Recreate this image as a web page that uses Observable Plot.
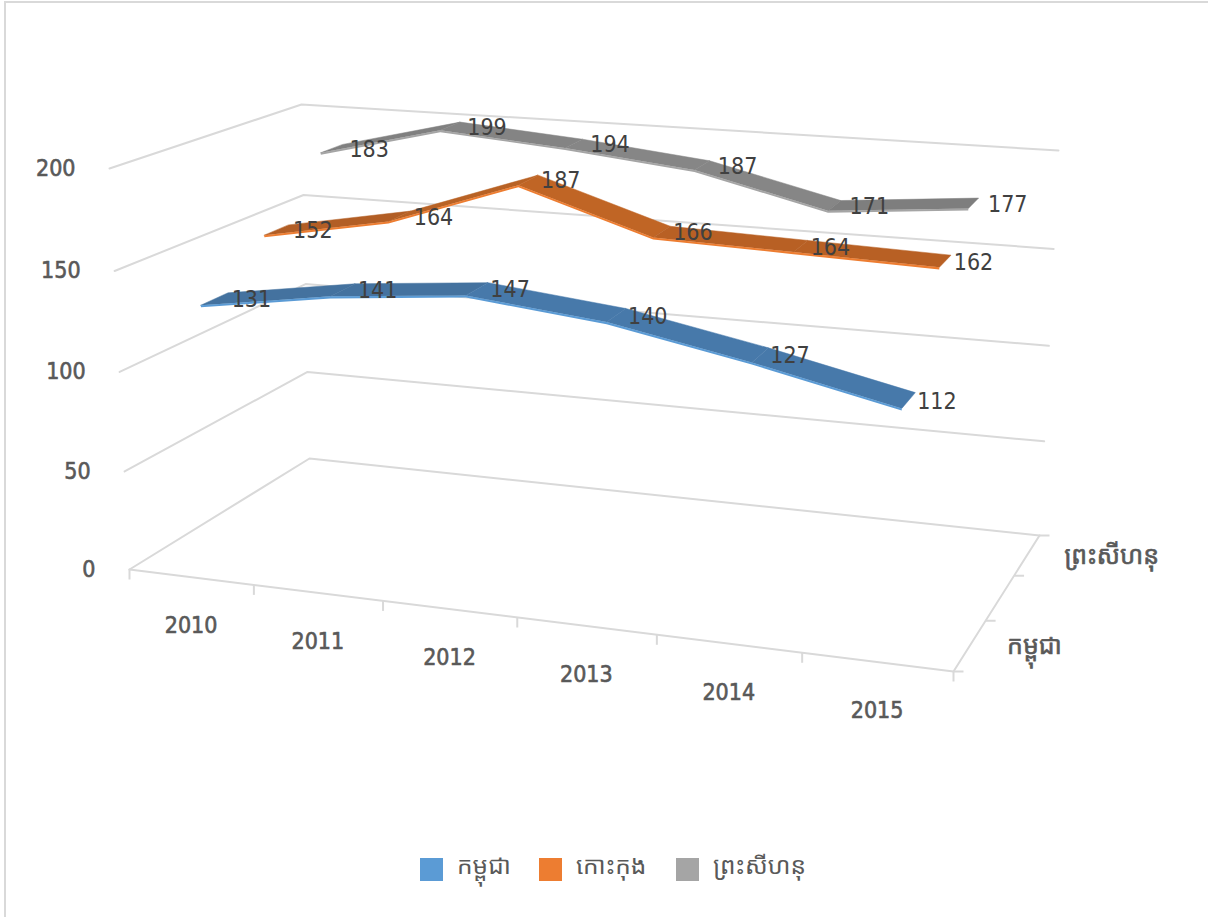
<!DOCTYPE html>
<html><head><meta charset="utf-8">
<script src="https://cdn.jsdelivr.net/npm/d3@7"></script>
<script src="https://cdn.jsdelivr.net/npm/@observablehq/plot@0.6"></script>
<style>
html,body{margin:0;padding:0;background:#fff;overflow:hidden}
#frame{position:absolute;left:4px;top:1px;width:1204px;height:916px;border-left:2px solid #d9d9d9;border-top:2px solid #d9d9d9;box-sizing:border-box;pointer-events:none}
#chart svg{display:block}
#legend{position:relative;height:82px;width:1208px;font-family:"Noto Sans Khmer","Noto Sans","DejaVu Sans",sans-serif;font-size:24.5px;color:#595959}
#legend i{position:absolute;top:23px;width:23px;height:23px}
#legend span{position:absolute;top:12px;line-height:36px}
</style></head><body>
<div id="chart"></div>
<div id="legend"></div>
<div id="frame"></div>
<script>
const years = [2010, 2011, 2012, 2013, 2014, 2015];
const seriesNames = ["កម្ពុជា", "កោះកុង", "ព្រះសីហនុ"];
const kampuchea = [131, 141, 147, 140, 127, 112];
const kohKong = [152, 164, 187, 166, 164, 162];
const sihanouk = [183, 199, 194, 187, 171, 177];
const seriesValues = [kampuchea, kohKong, sihanouk];
const valueTicks = [0, 50, 100, 150, 200];
const depthLabels = ["កម្ពុជា", "ព្រះសីហនុ"];
const segmentShades = [
  ["#44729f", "#44729f", "#4779aa", "#4779aa", "#4779aa"],
  ["#b25e25", "#b86225", "#c06525", "#b86024", "#b86024"],
  ["#808080", "#848484", "#868686", "#868686", "#7e7e7e"]
];
const edgeColors = ["#5b9bd5", "#ed7d31", "#a5a5a5"];

// perspective box of the chart
const box = {
  f0l: [129, 569], f0r: [953, 671], f1l: [109, 168], f1r: [985, 231],
  b0l: [309, 458], b0r: [1039, 535], b1l: [301, 104], b1r: [1058, 150]
};
const persp = (t, k) => t / (t + (1 - t) * k);
const mix = (a, b, t) => [a[0] + (b[0] - a[0]) * t, a[1] + (b[1] - a[1]) * t];
function project(u, value, w) {
  const tu = persp(u, 1.125), tv = persp(value / 200, 1.03), tw = persp(w, 0.84);
  const f = mix(mix(box.f0l, box.f0r, tu), mix(box.f1l, box.f1r, tu), tv);
  const b = mix(mix(box.b0l, box.b0r, tu), mix(box.b1l, box.b1r, tu), tv);
  return mix(f, b, tw);
}
const uOf = i => (i + 0.5) / years.length;
const wOf = s => (s + 0.5) / seriesNames.length;
const halfW = 0.068, edgeDrop = 1.0;
const labelDrift = [8, 7, 3], labelBase = [1, 2, 0];

const ribbon = [];
const labels = [];
seriesValues.forEach((vals, s) => {
  vals.forEach((v, i) => {
    const u = uOf(i), c = wOf(s);
    const fr = project(u, v, c - halfW), bk = project(u, v, c + halfW), dn = project(u, v - edgeDrop, c - halfW);
    ribbon.push({s, i, fx: fr[0], fy: fr[1], bx: bk[0], by: bk[1], dx: dn[0], dy: dn[1]});
    const m = project(u, v, c);
    labels.push({x: m[0] - labelBase[s] * (i ? 1 : 0.5) - labelDrift[s] * i / (years.length - 1), y: m[1], text: String(v)});
  });
});
const gridLines = [];
valueTicks.forEach(v => {
  [[0, 0], [0, 1], [1, 1]].forEach(([u, w]) => {
    const p = project(u, v, w);
    gridLines.push({v, x: p[0], y: p[1]});
  });
});
const floorEdge = [[0, 0], [1, 0], [1, 1]].map(([u, w]) => { const p = project(u, 0, w); return {x: p[0], y: p[1]}; });
const xTicks = d3.range(0, years.length + 1).map(i => { const p = project(i / years.length, 0, 0); return {x: p[0], y: p[1]}; });
const zTicks = d3.range(0, seriesNames.length + 1).map(i => { const p = project(1, 0, i / seriesNames.length); return {x: p[0], y: p[1]}; });
const xLabels = years.map((yr, i) => { const p = project(uOf(i), 0, 0); return {x: p[0], y: p[1], text: String(yr)}; });
const yLabels = valueTicks.map(v => { const p = project(0, v, 0); return {x: p[0], y: p[1], text: String(v)}; });
const zLabels = depthLabels.map((t, i) => { const p = project(1, 0, wOf(i === 0 ? 0 : 2)); return {x: p[0], y: p[1], text: t}; });

const W = 1208, H = 835;
const grey = "#d9d9d9";
const digitFont = '"DejaVu Sans Condensed","DejaVu Sans",sans-serif';
const axisText = {fill: "#595959", stroke: "#595959", strokeWidth: 0.6, fontSize: 23, fontFamily: digitFont};
const marks = [
  Plot.line(gridLines, {x: "x", y: "y", z: "v", stroke: grey, strokeWidth: 2}),
  Plot.line(floorEdge, {x: "x", y: "y", stroke: grey, strokeWidth: 2}),
  Plot.link(xTicks, {x1: "x", y1: "y", x2: "x", y2: d => d.y + 10, stroke: grey, strokeWidth: 2}),
  Plot.link(zTicks, {x1: "x", y1: "y", x2: d => d.x + 10, y2: "y", stroke: grey, strokeWidth: 2})
];
[2, 1, 0].forEach(s => {
  const d = ribbon.filter(r => r.s === s);
  d.slice(0, -1).forEach((r, k) => {
    marks.push(Plot.area([r, d[k + 1]], {x1: "fx", y1: "fy", x2: "bx", y2: "by", fill: segmentShades[s][k], stroke: segmentShades[s][k], strokeWidth: 0.5}));
  });
  marks.push(Plot.area(d, {x1: "fx", y1: "fy", x2: "dx", y2: "dy", fill: edgeColors[s]}));
});
marks.push(
  Plot.text(labels, {x: "x", y: "y", text: "text", textAnchor: "start", dx: 17, dy: 0.5, fill: "#404040", fontSize: 23, fontFamily: digitFont}),
  Plot.text(xLabels, {x: "x", y: "y", text: "text", dy: 48.5, ...axisText}),
  Plot.text(yLabels, {x: "x", y: "y", text: "text", textAnchor: "end", dx: -34, ...axisText}),
  Plot.text(zLabels, {x: "x", y: "y", text: "text", textAnchor: "start", dx: 37, dy: 1, fill: "#595959", stroke: "#595959", strokeWidth: 0.6, fontSize: 25, fontFamily: '"Noto Sans Khmer","Noto Sans","DejaVu Sans",sans-serif'})
);
const plot = Plot.plot({
  width: W, height: H, margin: 0,
  x: {domain: [0, W], range: [0, W], axis: null},
  y: {domain: [0, H], range: [0, H], axis: null},
  marks
});
document.getElementById("chart").append(plot);

const legendLefts = [420, 539, 676];
const legend = document.getElementById("legend");
seriesNames.forEach((n, i) => {
  const sw = document.createElement("i");
  sw.style.left = legendLefts[i] + "px";
  sw.style.background = edgeColors[i];
  const t = document.createElement("span");
  t.style.left = (legendLefts[i] + 37) + "px";
  t.textContent = n;
  legend.append(sw, t);
});
</script>
</body></html>
